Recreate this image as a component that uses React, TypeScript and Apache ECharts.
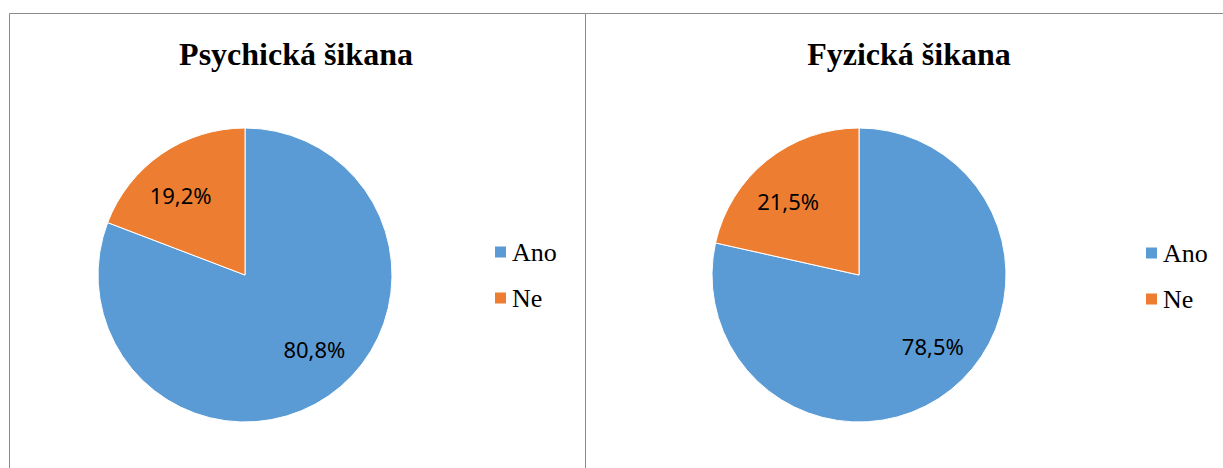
import React, { useEffect, useRef } from "react";
import * as echarts from "echarts";

const categories = ["Ano", "Ne"];
const titles = ["Psychická šikana", "Fyzická šikana"];
const psychickaValues = [80.8, 19.2];
const fyzickaValues = [78.5, 21.5];
const colors = ["#5B9BD5", "#ED7D31"];

// label offsets relative to the default "inside" position (per chart, per slice)
const labelShift = [
  [[26, 11], [-21, -17]],
  [[26, 11], [-23, -14]],
];

const fmt = (v: number) => v.toFixed(1).replace(".", ",") + "%";

export default function App() {
  const ref = useRef<HTMLDivElement>(null);
  useEffect(() => {
    if (!ref.current) return;
    const chart = echarts.init(ref.current, undefined, { renderer: "svg" });
    const makePie = (values: number[], center: number[], idx: number) => ({
      type: "pie",
      name: titles[idx],
      center,
      radius: 147,
      startAngle: 90,
      clockwise: true,
      silent: true,
      color: colors,
      itemStyle: { borderColor: "#ffffff", borderWidth: 1 },
      label: {
        show: true,
        position: "inside",
        formatter: (p: any) => fmt(p.value),
        fontFamily: "Noto Sans",
        fontSize: 22,
        color: "#000000",
      },
      labelLine: { show: false },
      labelLayout: (p: any) => {
        const s = labelShift[idx][p.dataIndex];
        return { dx: s[0], dy: s[1] };
      },
      data: categories.map((c, i) => ({ name: c, value: values[i] })),
    });
    const legendBase = {
      orient: "vertical",
      icon: "rect",
      itemWidth: 13,
      itemHeight: 13,
      itemGap: 20,
      padding: 0,
      selectedMode: false,
      data: categories,
      textStyle: {
        fontFamily: "Liberation Serif",
        fontSize: 26,
        lineHeight: 26,
        color: "#000000",
      },
    };
    const titleStyle = {
      fontFamily: "Liberation Serif",
      fontWeight: "bold",
      fontSize: 32,
      color: "#000000",
    };
    chart.setOption({
      animation: false,
      backgroundColor: "#ffffff",
      title: [
        { text: titles[0], left: 291, top: 33, textAlign: "center", textStyle: titleStyle },
        { text: titles[1], left: 904, top: 33, textAlign: "center", textStyle: titleStyle },
      ],
      legend: [
        { ...legendBase, left: 493, top: 239 },
        { ...legendBase, left: 1144, top: 240 },
      ],
      graphic: [
        {
          type: "rect",
          shape: { x: 9.5, y: 13.5, width: 576, height: 520 },
          style: { fill: "none", stroke: "#8c8c8c", lineWidth: 1 },
          silent: true,
          z: -1,
        },
        {
          type: "rect",
          shape: { x: 585.5, y: 13.5, width: 660, height: 520 },
          style: { fill: "none", stroke: "#8c8c8c", lineWidth: 1 },
          silent: true,
          z: -1,
        },
      ],
      series: [
        makePie(psychickaValues, [245, 275], 0),
        makePie(fyzickaValues, [859, 275], 1),
      ],
    });
    return () => chart.dispose();
  }, []);
  return (
    <div
      ref={ref}
      style={{ position: "fixed", left: 0, top: 0, width: 1223, height: 468 }}
    />
  );
}
